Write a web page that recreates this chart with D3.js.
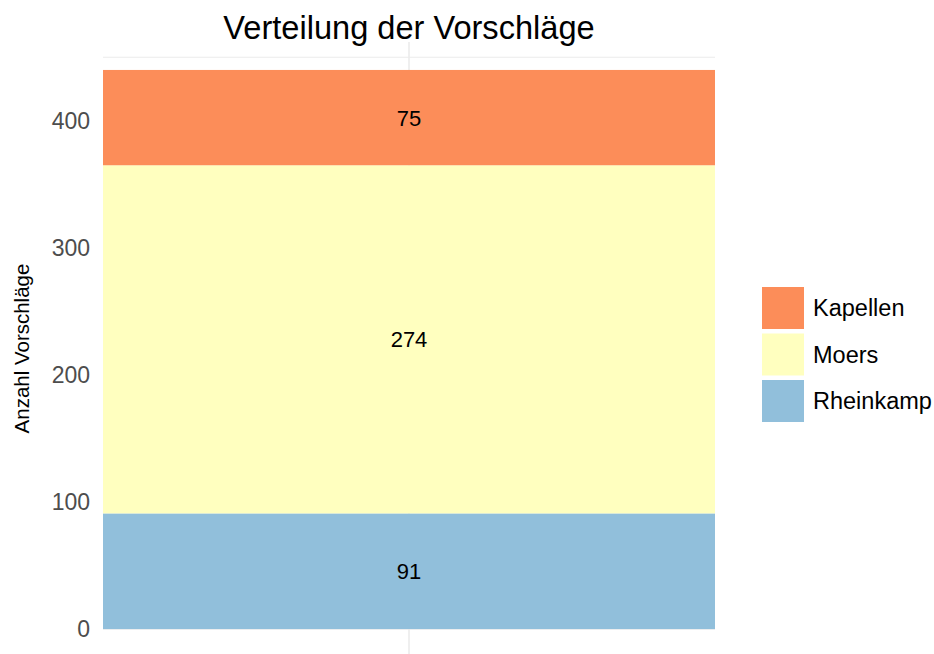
<!DOCTYPE html>
<html>
<head>
<meta charset="utf-8">
<script src="https://cdn.jsdelivr.net/npm/d3@7"></script>
<style>
  body { margin: 0; background: #fff; }
  text { font-family: "Liberation Sans", Arial, sans-serif; }
</style>
</head>
<body>
<svg id="chart" width="934" height="654"></svg>
<script>
// Stacked counts of proposals per district
const groups = ["Gesamt"];
const districts = ["Rheinkamp", "Moers", "Kapellen"];          // stacking order, bottom to top
const counts = [91, 274, 75];
const legendOrder = ["Kapellen", "Moers", "Rheinkamp"];
const colors = ["#91BFDB", "#FFFFBF", "#FC8D59"];
const yTicks = [0, 100, 200, 300, 400];
const yMinor = [50, 150, 250, 350, 450];

const svg = d3.select("#chart");
const panel = { left: 103, right: 715, top: 0, bottom: 654 };

const total = d3.sum(counts);
const y = d3.scaleLinear()
  .domain([-0.05 * total, total * 1.05])
  .range([657, 42]);

const x = d3.scaleBand()
  .domain(groups)
  .range([panel.left, panel.right])
  .padding(0);

const color = d3.scaleOrdinal().domain(districts).range(colors);

// Grid lines
const g = svg.append("g");
g.selectAll("line.minor").data(yMinor).join("line")
  .attr("x1", panel.left).attr("x2", panel.right)
  .attr("y1", d => y(d)).attr("y2", d => y(d))
  .attr("stroke", "#EBEBEB").attr("stroke-width", 1);
g.selectAll("line.major").data(yTicks).join("line")
  .attr("x1", panel.left).attr("x2", panel.right)
  .attr("y1", d => y(d)).attr("y2", d => y(d))
  .attr("stroke", "#EBEBEB").attr("stroke-width", 1.6);
g.selectAll("line.vx").data(groups).join("line")
  .attr("x1", d => x(d) + x.bandwidth() / 2).attr("x2", d => x(d) + x.bandwidth() / 2)
  .attr("y1", y(total * 1.05)).attr("y2", 654)
  .attr("stroke", "#EBEBEB").attr("stroke-width", 1.6);

// Stacked segments
const stackData = [Object.fromEntries(districts.map((d, i) => [d, counts[i]]))];
const series = d3.stack().keys(districts)(stackData);

const seg = svg.append("g").selectAll("g").data(series).join("g")
  .attr("fill", s => color(s.key));
seg.selectAll("rect").data(s => s.map(v => ({ v, key: s.key }))).join("rect")
  .attr("x", x(groups[0]))
  .attr("width", x.bandwidth())
  .attr("y", d => y(d.v[1]))
  .attr("height", d => y(d.v[0]) - y(d.v[1]));

// Value labels in the middle of each segment
svg.append("g").selectAll("text").data(series).join("text")
  .attr("x", x(groups[0]) + x.bandwidth() / 2)
  .attr("y", s => y((s[0][0] + s[0][1]) / 2))
  .attr("dy", "0.36em")
  .attr("text-anchor", "middle")
  .attr("font-size", 22)
  .attr("fill", "#000")
  .text(s => s[0][1] - s[0][0]);

// Y axis labels
const yAxis = d3.axisLeft(y).tickValues(yTicks).tickSize(0).tickPadding(13);
const ya = svg.append("g").attr("transform", `translate(${panel.left},0)`).call(yAxis);
ya.select(".domain").remove();
ya.selectAll("text").attr("font-size", 23).attr("fill", "#4D4D4D")
  .attr("font-family", "Liberation Sans, Arial, sans-serif");

// Y axis title
svg.append("text")
  .attr("transform", `translate(29,${(y(0) + y(total * 1.05)) / 2 + 13}) rotate(-90)`)
  .attr("text-anchor", "middle")
  .attr("font-size", 20.5)
  .attr("fill", "#000")
  .text("Anzahl Vorschläge");

// Title
svg.append("text")
  .attr("x", (panel.left + panel.right) / 2)
  .attr("y", 39)
  .attr("text-anchor", "middle")
  .attr("font-size", 32.6)
  .attr("fill", "#000")
  .text("Verteilung der Vorschläge");

// Legend
const leg = svg.append("g").attr("transform", "translate(762,287)");
const li = leg.selectAll("g").data(legendOrder).join("g")
  .attr("transform", (d, i) => `translate(0,${i * 46.5})`);
li.append("rect").attr("width", 42).attr("height", 42).attr("fill", d => color(d));
li.append("text").attr("x", 51).attr("y", 21).attr("dy", "0.36em")
  .attr("font-size", 23.5).attr("fill", "#000").text(d => d);
</script>
</body>
</html>
